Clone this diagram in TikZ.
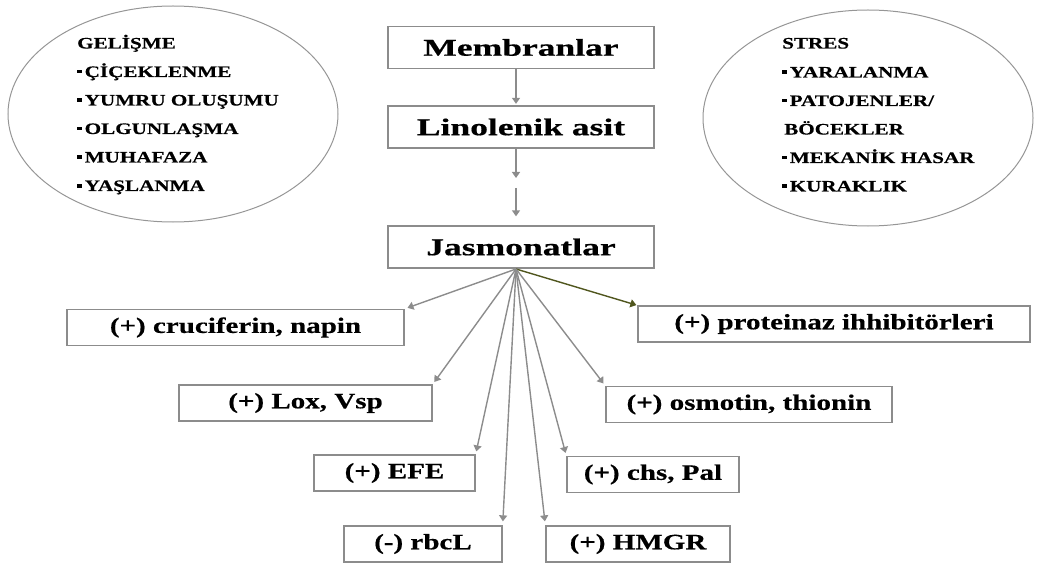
\documentclass[tikz,border=0pt]{standalone}
\usepackage{fontspec}
\setmainfont{Liberation Serif}
\newfontfamily\stagefont{Liberation Serif}[FakeStretch=1.48,FakeBold=0.6]
\newfontfamily\leaffont{Liberation Serif}[FakeStretch=1.32,FakeBold=0.5]
\newfontfamily\listfont{Liberation Serif}[FakeStretch=1.32,FakeBold=0.4]
\usetikzlibrary{arrows.meta,shapes.geometric}

\definecolor{boxgray}{RGB}{140,140,140}
\definecolor{arrowgray}{RGB}{140,140,140}
\definecolor{olivearrow}{RGB}{80,86,30}
\definecolor{ringgray}{RGB}{150,150,150}

% small square bullet used in the two lists
\newcommand\sqbul{\rule[3.5pt]{5pt}{3.5pt}\hspace{2.5pt}}

\tikzset{
  stagebox/.style={draw=boxgray, line width=1.3pt, minimum width=266pt,
    minimum height=42pt, inner sep=0pt,
    font=\stagefont\bfseries\fontsize{24}{28}\selectfont},
  leafbox/.style={draw=boxgray, line width=1.3pt, minimum height=36pt,
    inner sep=0pt, font=\leaffont\bfseries\fontsize{22}{26}\selectfont},
  ring/.style={draw=ringgray, line width=1pt, ellipse, inner sep=0pt},
  listline/.style={anchor=base west, inner sep=0pt,
    font=\listfont\bfseries\fontsize{16}{19}\selectfont},
  link/.style={draw=arrowgray, line width=1.4pt,
    -{Triangle[length=6pt,width=8pt]}},
}

\begin{document}
\begin{tikzpicture}[x=1pt,y=-1pt]
\useasboundingbox (0,0) rectangle (1041,564);

% side ellipses with their lists
\node[ring, minimum width=330pt, minimum height=216pt] (dev) at (173,114) {};
\node[listline] (g1) at (77,48.5)  {GELİŞME};
\node[listline] (g2) at (77,77)    {\sqbul ÇİÇEKLENME};
\node[listline] (g3) at (77,105.5) {\sqbul YUMRU OLUŞUMU};
\node[listline] (g4) at (77,134)   {\sqbul OLGUNLAŞMA};
\node[listline] (g5) at (77,162.5) {\sqbul MUHAFAZA};
\node[listline] (g6) at (77,191)   {\sqbul YAŞLANMA};

\node[ring, minimum width=330pt, minimum height=216pt] (str) at (868,118) {};
\node[listline] (s1) at (782,48.5)  {STRES};
\node[listline] (s2) at (782,77.5)  {\sqbul YARALANMA};
\node[listline] (s3) at (782,106)   {\sqbul PATOJENLER/};
\node[listline] (s4) at (784,134.5) {BÖCEKLER};
\node[listline] (s5) at (782,163)   {\sqbul MEKANİK HASAR};
\node[listline] (s6) at (782,191.5) {\sqbul KURAKLIK};

% main pathway
\node[stagebox] (mem) at (521,47.5) {Membranlar};
\node[stagebox] (lin) at (521,127)  {Linolenik asit};
\node[stagebox] (jas) at (521,247)  {Jasmonatlar};

\coordinate (hub) at (516,269);
\coordinate (m1) at (516,178);
\coordinate (m2) at (516,188);

\draw[link, shorten >=1.5pt] (mem.south -| hub) -- (lin.north -| hub);
\draw[link] (lin.south -| hub) -- (m1);
\draw[link, shorten >=9pt] (m2) -- (jas.north -| hub);

% regulated genes
\node[leafbox, minimum width=337pt] (cru) at (235.5,327.5) {(+) cruciferin, napin};
\node[leafbox, minimum width=253pt] (lox) at (305.5,403)   {(+) Lox, Vsp};
\node[leafbox, minimum width=161pt] (efe) at (394.5,473)   {(+) EFE};
\node[leafbox, minimum width=158pt] (rbc) at (423,544)     {(-) rbcL};
\node[leafbox, minimum width=184pt] (hmg) at (638,544)     {(+) HMGR};
\node[leafbox, minimum width=392pt] (pro) at (834,324)     {(+) proteinaz ihhibitörleri};
\node[leafbox, minimum width=286pt] (osm) at (749,404.5)   {(+) osmotin, thionin};
\node[leafbox, minimum width=172pt] (chs) at (653,474.5)   {(+) chs, Pal};

\draw[link, shorten >=3pt] (hub) -- (cru.north east);
\draw[link, shorten >=3pt] (hub) -- (lox.north east);
\draw[link, shorten >=3pt] (hub) -- (efe.north east);
\draw[link, shorten >=4pt] (hub) -- (rbc.north east);
\draw[link, shorten >=4pt] (hub) -- (hmg.north west);
\draw[link, draw=olivearrow, shorten >=1pt] (hub) -- (pro.north west);
\draw[link, shorten >=3pt] (hub) -- (osm.north west);
\draw[link, shorten >=3pt] (hub) -- (chs.north west);
\end{tikzpicture}
\end{document}
